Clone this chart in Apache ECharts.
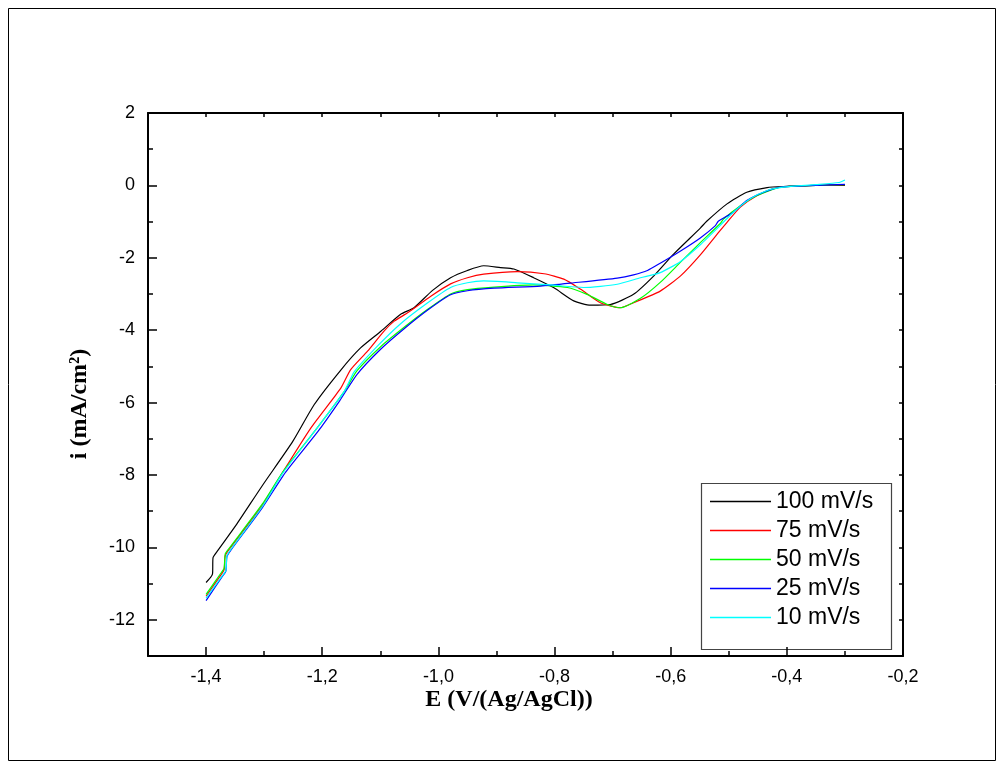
<!DOCTYPE html>
<html>
<head>
<meta charset="utf-8">
<title>Voltammograms</title>
<script src="https://cdn.jsdelivr.net/npm/echarts@6/dist/echarts.min.js"></script>
<style>
  html, body { margin: 0; padding: 0; background: #fff; }
  #chart { width: 1004px; height: 769px; }
</style>
</head>
<body>
<div id="chart"></div>
<script>
// Scan-rate series: [E (V vs Ag/AgCl), i (mA/cm2)]
const scanRates = ['100 mV/s', '75 mV/s', '50 mV/s', '25 mV/s', '10 mV/s'];
const lineColors = ['#000000', '#ff0000', '#00ff00', '#0000ff', '#00ffff'];

const scan100 = [
  [-1.400,-10.97],[-1.389,-10.74],[-1.388,-10.28],[-1.380,-10.09],[-1.349,-9.40],[-1.303,-8.29],
  [-1.251,-7.08],[-1.214,-6.06],[-1.168,-5.10],[-1.134,-4.49],[-1.099,-4.03],[-1.065,-3.56],
  [-1.042,-3.38],[-1.010,-2.90],[-0.979,-2.55],[-0.950,-2.35],[-0.922,-2.22],[-0.893,-2.27],
  [-0.870,-2.31],[-0.836,-2.55],[-0.801,-2.83],[-0.767,-3.19],[-0.738,-3.31],[-0.704,-3.29],
  [-0.664,-3.01],[-0.629,-2.50],[-0.595,-1.90],[-0.549,-1.18],[-0.538,-0.99],[-0.503,-0.51],
  [-0.469,-0.19],[-0.434,-0.06],[-0.406,-0.03],[-0.350,0.00],[-0.300,0.00]
];
const scan75 = [
  [-1.400,-11.35],[-1.374,-10.75],[-1.369,-10.62],[-1.367,-10.23],[-1.360,-10.05],[-1.303,-8.84],
  [-1.271,-8.00],[-1.220,-6.71],[-1.168,-5.60],[-1.151,-5.09],[-1.122,-4.58],[-1.094,-4.03],
  [-1.076,-3.75],[-1.053,-3.52],[-1.013,-3.06],[-0.979,-2.72],[-0.950,-2.55],[-0.922,-2.45],
  [-0.864,-2.38],[-0.818,-2.44],[-0.784,-2.59],[-0.755,-2.87],[-0.721,-3.24],[-0.687,-3.38],
  [-0.664,-3.24],[-0.618,-2.92],[-0.583,-2.50],[-0.549,-1.92],[-0.515,-1.25],[-0.503,-1.02],
  [-0.480,-0.60],[-0.451,-0.28],[-0.423,-0.09],[-0.400,-0.03],[-0.350,0.00],[-0.300,0.02]
];
const scan50 = [
  [-1.400,-11.30],[-1.374,-10.70],[-1.369,-10.58],[-1.367,-10.18],[-1.360,-10.02],[-1.303,-8.80],
  [-1.268,-7.92],[-1.214,-6.81],[-1.162,-5.69],[-1.140,-5.12],[-1.099,-4.45],[-1.059,-3.92],
  [-1.019,-3.43],[-0.979,-3.00],[-0.950,-2.88],[-0.904,-2.81],[-0.836,-2.75],[-0.778,-2.82],
  [-0.744,-3.01],[-0.709,-3.29],[-0.687,-3.38],[-0.652,-3.12],[-0.618,-2.68],[-0.583,-2.12],
  [-0.549,-1.58],[-0.515,-1.06],[-0.509,-0.93],[-0.480,-0.56],[-0.451,-0.28],[-0.411,-0.05],
  [-0.350,0.00],[-0.300,0.02]
];
const scan25 = [
  [-1.400,-11.47],[-1.372,-10.80],[-1.366,-10.66],[-1.364,-10.25],[-1.357,-10.07],[-1.303,-8.90],
  [-1.263,-7.92],[-1.208,-6.81],[-1.170,-5.95],[-1.140,-5.22],[-1.099,-4.52],[-1.059,-3.96],
  [-1.019,-3.45],[-0.979,-3.02],[-0.950,-2.91],[-0.904,-2.84],[-0.824,-2.78],[-0.767,-2.69],
  [-0.692,-2.56],[-0.664,-2.47],[-0.640,-2.35],[-0.618,-2.15],[-0.583,-1.81],[-0.549,-1.45],
  [-0.523,-1.11],[-0.518,-0.99],[-0.492,-0.74],[-0.469,-0.42],[-0.440,-0.19],[-0.411,-0.05],
  [-0.350,0.00],[-0.300,0.03]
];
const scan10 = [
  [-1.400,-11.40],[-1.372,-10.78],[-1.366,-10.64],[-1.364,-10.23],[-1.357,-10.05],[-1.303,-8.87],
  [-1.268,-7.95],[-1.214,-6.81],[-1.162,-5.69],[-1.145,-5.15],[-1.105,-4.44],[-1.065,-3.82],
  [-1.019,-3.25],[-0.979,-2.82],[-0.950,-2.69],[-0.922,-2.64],[-0.864,-2.69],[-0.807,-2.75],
  [-0.750,-2.82],[-0.692,-2.73],[-0.652,-2.55],[-0.618,-2.41],[-0.583,-2.10],[-0.549,-1.64],
  [-0.515,-1.11],[-0.492,-0.74],[-0.463,-0.37],[-0.434,-0.14],[-0.406,-0.05],[-0.350,0.02],
  [-0.310,0.08],[-0.300,0.15]
];
const scans = [scan100, scan75, scan50, scan25, scan10];

// Axis ranges and labelled (major) tick positions
const xRange = [-1.5, -0.2];
const yRange = [-13, 2];
const xMajorTicks = [-1.4, -1.2, -1.0, -0.8, -0.6, -0.4, -0.2];
const yMajorTicks = [-12, -10, -8, -6, -4, -2, 0, 2];

const labelFont = '"Liberation Sans", Arial, sans-serif';
const titleFont = '"Liberation Serif", "Times New Roman", serif';

const chart = echarts.init(document.getElementById('chart'), null, { renderer: 'canvas' });

const frameLine = { show: true, onZero: false, lineStyle: { color: '#000', width: 2 } };
const noLine = { show: false, onZero: false };

function xAxisBase(extra) {
  return Object.assign({
    type: 'value', min: xRange[0], max: xRange[1], interval: 0.1,
    splitLine: { show: false }, axisLabel: { show: false }
  }, extra);
}
function yAxisBase(extra) {
  return Object.assign({
    type: 'value', min: yRange[0], max: yRange[1], interval: 1,
    splitLine: { show: false }, axisLabel: { show: false }
  }, extra);
}

const option = {
  animation: false,
  backgroundColor: '#fff',
  grid: { left: 148, right: 101, top: 113, bottom: 113, outerBoundsMode: 'none' },
  xAxis: [
    xAxisBase({
      position: 'bottom', axisLine: frameLine,
      axisTick: { show: true, inside: true, length: 5, lineStyle: { color: '#000', width: 1.5 } },
      axisLabel: {
        show: true, margin: 12, color: '#000', fontSize: 18, fontFamily: labelFont,
        showMinLabel: true, showMaxLabel: true,
        formatter: function (v) {
          const k = Math.round(v * 10);
          return k % 2 === 0 ? (k / 10).toFixed(1).replace('.', ',') : '';
        }
      }
    }),
    xAxisBase({
      position: 'bottom', axisLine: noLine,
      axisTick: { show: true, inside: true, length: 9, customValues: xMajorTicks,
                  lineStyle: { color: '#000', width: 1.5 } }
    }),
    xAxisBase({
      position: 'top', axisLine: frameLine,
      axisTick: { show: true, inside: true, length: 4, lineStyle: { color: '#000', width: 1.5 } }
    })
  ],
  yAxis: [
    yAxisBase({
      position: 'left', axisLine: frameLine,
      axisTick: { show: true, inside: true, length: 5, lineStyle: { color: '#000', width: 1.5 } },
      axisLabel: {
        show: true, margin: 13, color: '#000', fontSize: 18, fontFamily: labelFont,
        showMinLabel: true, showMaxLabel: true,
        formatter: function (v) {
          const k = Math.round(v);
          return k % 2 === 0 ? String(k) : '';
        }
      }
    }),
    yAxisBase({
      position: 'left', axisLine: noLine,
      axisTick: { show: true, inside: true, length: 9, customValues: yMajorTicks,
                  lineStyle: { color: '#000', width: 1.5 } }
    }),
    yAxisBase({
      position: 'right', axisLine: frameLine,
      axisTick: { show: true, inside: true, length: 4, lineStyle: { color: '#000', width: 1.5 } }
    })
  ],
  legend: {
    orient: 'vertical', left: 710, top: 490, padding: 0,
    icon: 'rect', itemWidth: 61, itemHeight: 1.3, itemGap: 6, itemTextGap: 7,
    selectedMode: false,
    textStyle: { color: '#000', fontSize: 23, fontFamily: labelFont },
    data: scanRates
  },
  series: scanRates.map(function (name, idx) {
    return {
      name: name, type: 'line', data: scans[idx],
      xAxisIndex: 0, yAxisIndex: 0,
      symbol: 'none', smooth: 0.2,
      lineStyle: { color: lineColors[idx], width: 1.2 },
      itemStyle: { color: lineColors[idx] }
    };
  }),
  graphic: [
    // outer frame
    { type: 'rect', silent: true, z: -1,
      shape: { x: 8.5, y: 8.5, width: 987, height: 752 },
      style: { fill: 'none', stroke: '#000', lineWidth: 1 } },
    // legend box
    { type: 'rect', silent: true,
      shape: { x: 701.5, y: 483.5, width: 190, height: 166 },
      style: { fill: 'none', stroke: '#444', lineWidth: 1.2 } },
    // axis titles
    { type: 'text', silent: true, x: 509, y: 700,
      style: { text: 'E (V/(Ag/AgCl))', font: 'bold 24px ' + titleFont, fill: '#000',
               textAlign: 'center', textVerticalAlign: 'middle' } },
    { type: 'text', silent: true, x: 80, y: 404, rotation: Math.PI / 2,
      style: { text: 'i (mA/cm²)', font: 'bold 24px ' + titleFont, fill: '#000',
               textAlign: 'center', textVerticalAlign: 'middle' } }
  ]
};

chart.setOption(option);
</script>
</body>
</html>
